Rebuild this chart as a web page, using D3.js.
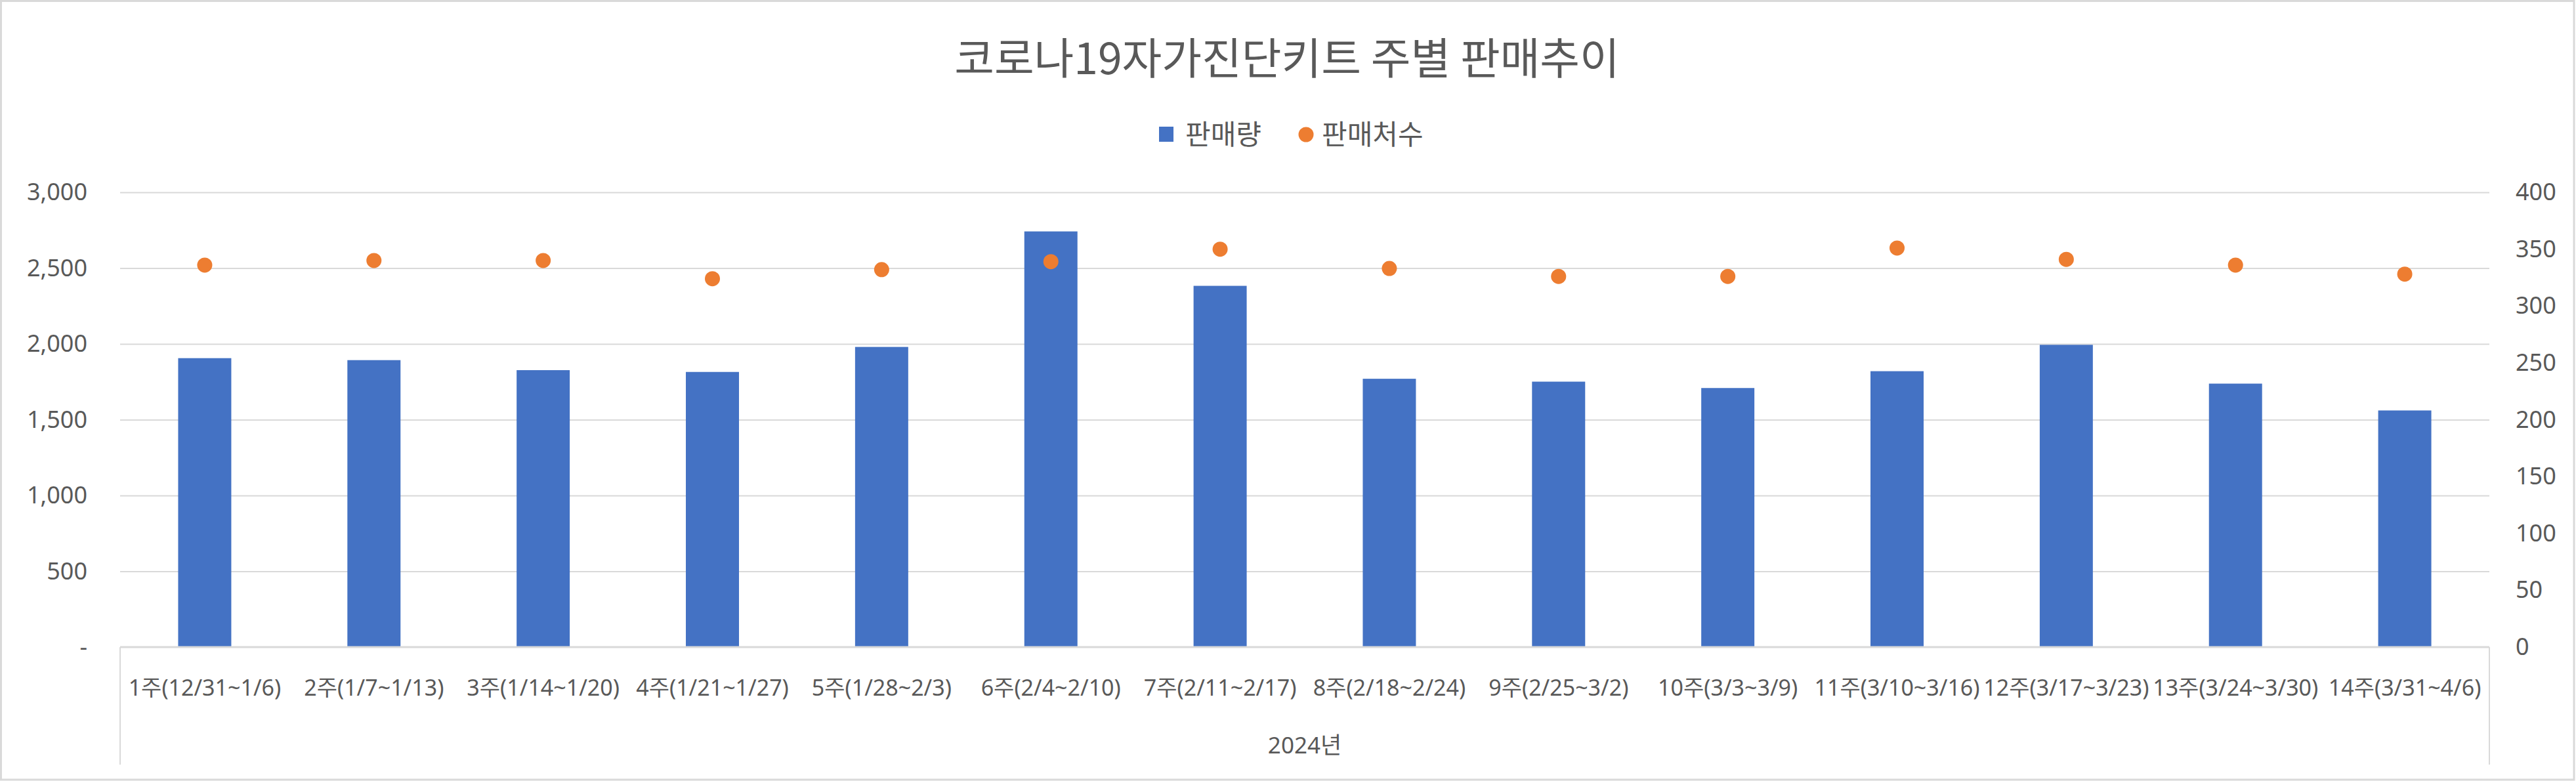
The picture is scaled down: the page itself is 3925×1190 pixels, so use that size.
<!DOCTYPE html>
<html><head><meta charset="utf-8">
<script src="https://cdn.jsdelivr.net/npm/d3@7"></script>
<style>
html,body{margin:0;padding:0;background:#fff;}
svg{display:block;}
</style></head>
<body>
<script>
const title = "코로나19자가진단키트 주별 판매추이";
const groupLabel = "2024년";
const seriesNames = ["판매량", "판매처수"];
const categories = ["1주(12/31~1/6)","2주(1/7~1/13)","3주(1/14~1/20)","4주(1/21~1/27)","5주(1/28~2/3)","6주(2/4~2/10)","7주(2/11~2/17)","8주(2/18~2/24)","9주(2/25~3/2)","10주(3/3~3/9)","11주(3/10~3/16)","12주(3/17~3/23)","13주(3/24~3/30)","14주(3/31~4/6)"];
const sales = [1906, 1893, 1827, 1815, 1980, 2742, 2383, 1770, 1751, 1709, 1820, 1994, 1738, 1561];
const stores = [336, 340, 340, 324, 332, 339, 350, 333, 326, 326, 351, 341, 336, 328];
const leftTicks = [0, 500, 1000, 1500, 2000, 2500, 3000];
const rightTicks = [0, 50, 100, 150, 200, 250, 300, 350, 400];

const W = 3925, H = 1190;
const plot = {left: 183, right: 3793, top: 293, bottom: 986};
const textColor = "#595959", gridColor = "#d9d9d9";
const barColor = "#4472C4", dotColor = "#ED7D31";
const latinFont = "'Noto Sans', 'Noto Sans CJK KR', sans-serif";
const cjkFont = "'Noto Sans CJK KR', 'Noto Sans', sans-serif";

const svg = d3.select("body").append("svg").attr("width", W).attr("height", H);
svg.append("rect").attr("x",0).attr("y",0).attr("width",W).attr("height",H).attr("fill","#fff");
svg.append("rect").attr("x",1.5).attr("y",1.5).attr("width",W-4.5).attr("height",H-3.5)
  .attr("fill","none").attr("stroke",gridColor).attr("stroke-width",3);

const x = d3.scaleBand().domain(categories).range([plot.left, plot.right]).paddingInner(0.686).paddingOuter(0.343);
const yL = d3.scaleLinear().domain([0, 3000]).range([plot.bottom, plot.top]);
const yR = d3.scaleLinear().domain([0, 400]).range([plot.bottom, plot.top]);

// gridlines
const grid = d3.axisLeft(yL).tickValues(leftTicks.filter(d => d > 0)).tickSize(-(plot.right - plot.left)).tickFormat("");
const gg = svg.append("g").attr("transform", `translate(${plot.left},0)`).call(grid);
gg.select(".domain").remove();
gg.selectAll("line").attr("stroke", gridColor).attr("stroke-width", 2);

// left axis labels
const fmt = d3.format(",");
const la = d3.axisLeft(yL).tickValues(leftTicks).tickSize(0).tickPadding(0).tickFormat(d => d === 0 ? "-" : fmt(d));
const lag = svg.append("g").attr("transform", `translate(133,0)`).call(la);
lag.select(".domain").remove();
lag.selectAll("text").attr("fill", textColor).style("font-family", latinFont).style("font-size", "36px");

// right axis labels
const ra = d3.axisRight(yR).tickValues(rightTicks).tickSize(0).tickPadding(0).tickFormat(d3.format("d"));
const rag = svg.append("g").attr("transform", `translate(3833,0)`).call(ra);
rag.select(".domain").remove();
rag.selectAll("text").attr("fill", textColor).style("font-family", latinFont).style("font-size", "36px");

// bars
svg.append("g").selectAll("rect").data(sales).join("rect")
  .attr("x", (d, i) => x(categories[i]))
  .attr("width", x.bandwidth())
  .attr("y", d => yL(d))
  .attr("height", d => yL(0) - yL(d))
  .attr("fill", barColor);

// markers
svg.append("g").selectAll("circle").data(stores).join("circle")
  .attr("cx", (d, i) => x(categories[i]) + x.bandwidth() / 2)
  .attr("cy", d => yR(d))
  .attr("r", 11.5)
  .attr("fill", dotColor);

// category axis
const ca = d3.axisBottom(x).tickSize(0).tickPadding(0);
const cag = svg.append("g").attr("transform", `translate(0,${plot.bottom})`).call(ca);
cag.select(".domain").remove();
cag.selectAll("text").attr("fill", textColor).attr("dy", null).attr("y", 61)
  .attr("dominant-baseline", "central")
  .style("font-family", latinFont).style("font-size", "34px");

svg.append("line").attr("x1", plot.left).attr("x2", plot.right).attr("y1", plot.bottom).attr("y2", plot.bottom)
  .attr("stroke", gridColor).attr("stroke-width", 3);
[plot.left, plot.right].forEach(xx => {
  svg.append("line").attr("x1", xx).attr("x2", xx).attr("y1", plot.bottom).attr("y2", 1165)
    .attr("stroke", gridColor).attr("stroke-width", 2);
});

svg.append("text").attr("x", (plot.left + plot.right) / 2).attr("y", 1134)
  .attr("text-anchor", "middle").attr("dominant-baseline", "central")
  .attr("fill", textColor).style("font-family", latinFont).style("font-size", "35px")
  .text(groupLabel);

// title
svg.append("text").attr("x", 1961).attr("y", 113).attr("text-anchor", "middle")
  .attr("fill", textColor).style("font-family", cjkFont).style("font-size", "66px")
  .text(title);

// legend
const lg = svg.append("g");
lg.append("rect").attr("x", 1766).attr("y", 193).attr("width", 22).attr("height", 23).attr("fill", barColor);
lg.append("text").attr("x", 1806).attr("y", 220).attr("fill", textColor)
  .style("font-family", cjkFont).style("font-size", "42px").text(seriesNames[0]);
lg.append("circle").attr("cx", 1990).attr("cy", 205).attr("r", 11.5).attr("fill", dotColor);
lg.append("text").attr("x", 2014).attr("y", 220).attr("fill", textColor)
  .style("font-family", cjkFont).style("font-size", "42px").text(seriesNames[1]);
</script>
</body></html>
